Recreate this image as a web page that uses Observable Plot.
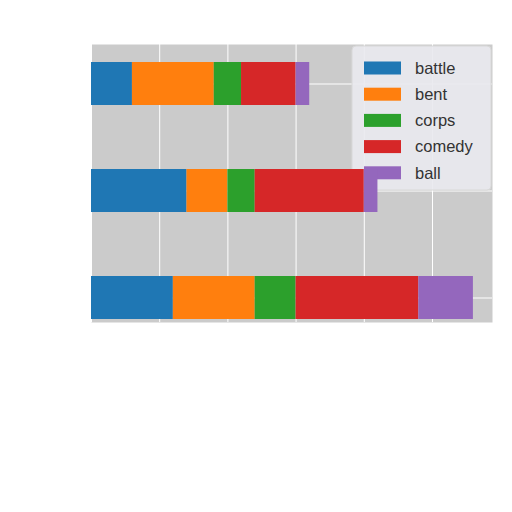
<!DOCTYPE html>
<html>
<head>
<meta charset="utf-8">
<script src="https://cdn.jsdelivr.net/npm/d3@7"></script>
<script src="https://cdn.jsdelivr.net/npm/@observablehq/plot@0.6"></script>
<style>
  body { margin: 0; background: #fff; }
  #chart { width: 512px; height: 512px; position: relative; }
</style>
</head>
<body>
<div id="chart"></div>
<script>
// Rows listed top to bottom
const categories = ["row 3", "row 2", "row 1"];
const series = ["battle", "bent", "corps", "comedy", "ball"];
const battle = [6, 14, 12];
const bent = [12, 6, 12];
const corps = [4, 4, 6];
const comedy = [8, 16, 18];
const ball = [2, 2, 8];
const xTicks = [0, 10, 20, 30, 40, 50];
const colors = ["#1f77b4", "#ff7f0e", "#2ca02c", "#d62728", "#9467bd"];

const values = {battle, bent, corps, comedy, ball};
const data = [];
categories.forEach((c, i) => {
  series.forEach(s => data.push({cat: c, series: s, value: values[s][i]}));
});

const plot = Plot.plot({
  width: 512,
  height: 340,
  marginLeft: 91,
  marginRight: 20,
  marginTop: 44,
  marginBottom: 18,
  x: {domain: [0, 58.8], axis: null},
  y: {domain: categories, range: [62, 319], paddingInner: 0.6, paddingOuter: 0, axis: null},
  color: {domain: series, range: colors},
  marks: [
    Plot.frame({fill: "#cbcbcb", stroke: "none"}),
    Plot.gridX(xTicks, {stroke: "white", strokeOpacity: 1, strokeWidth: 1}),
    Plot.gridY({stroke: "white", strokeOpacity: 1, strokeWidth: 1}),
    Plot.barX(data, Plot.stackX({x: "value", y: "cat", fill: "series", order: null, inset: 0}))
  ]
});

document.getElementById("chart").appendChild(plot);

// Legend drawn inside the SVG, beneath the bars
const barGroup = plot.querySelector('g[aria-label="bar"]');
const lg = d3.create("svg:g").attr("class", "legend");
lg.append("rect")
  .attr("x", 352).attr("y", 46).attr("width", 139).attr("height", 144)
  .attr("rx", 4)
  .attr("fill", "#e9e9ef").attr("fill-opacity", 0.92)
  .attr("stroke", "#d8d8d8");
series.forEach((s, i) => {
  const cy = 68 + i * 26.2;
  lg.append("rect")
    .attr("x", 364).attr("y", cy - 6.5).attr("width", 37).attr("height", 13)
    .attr("fill", colors[i]);
  lg.append("text")
    .attr("x", 415).attr("y", cy)
    .attr("dy", "0.35em")
    .attr("text-anchor", "start")
    .attr("font-family", "Liberation Sans, Arial, sans-serif")
    .attr("font-size", 16.5)
    .attr("fill", "#333")
    .text(s);
});
plot.insertBefore(lg.node(), barGroup);
</script>
</body>
</html>
